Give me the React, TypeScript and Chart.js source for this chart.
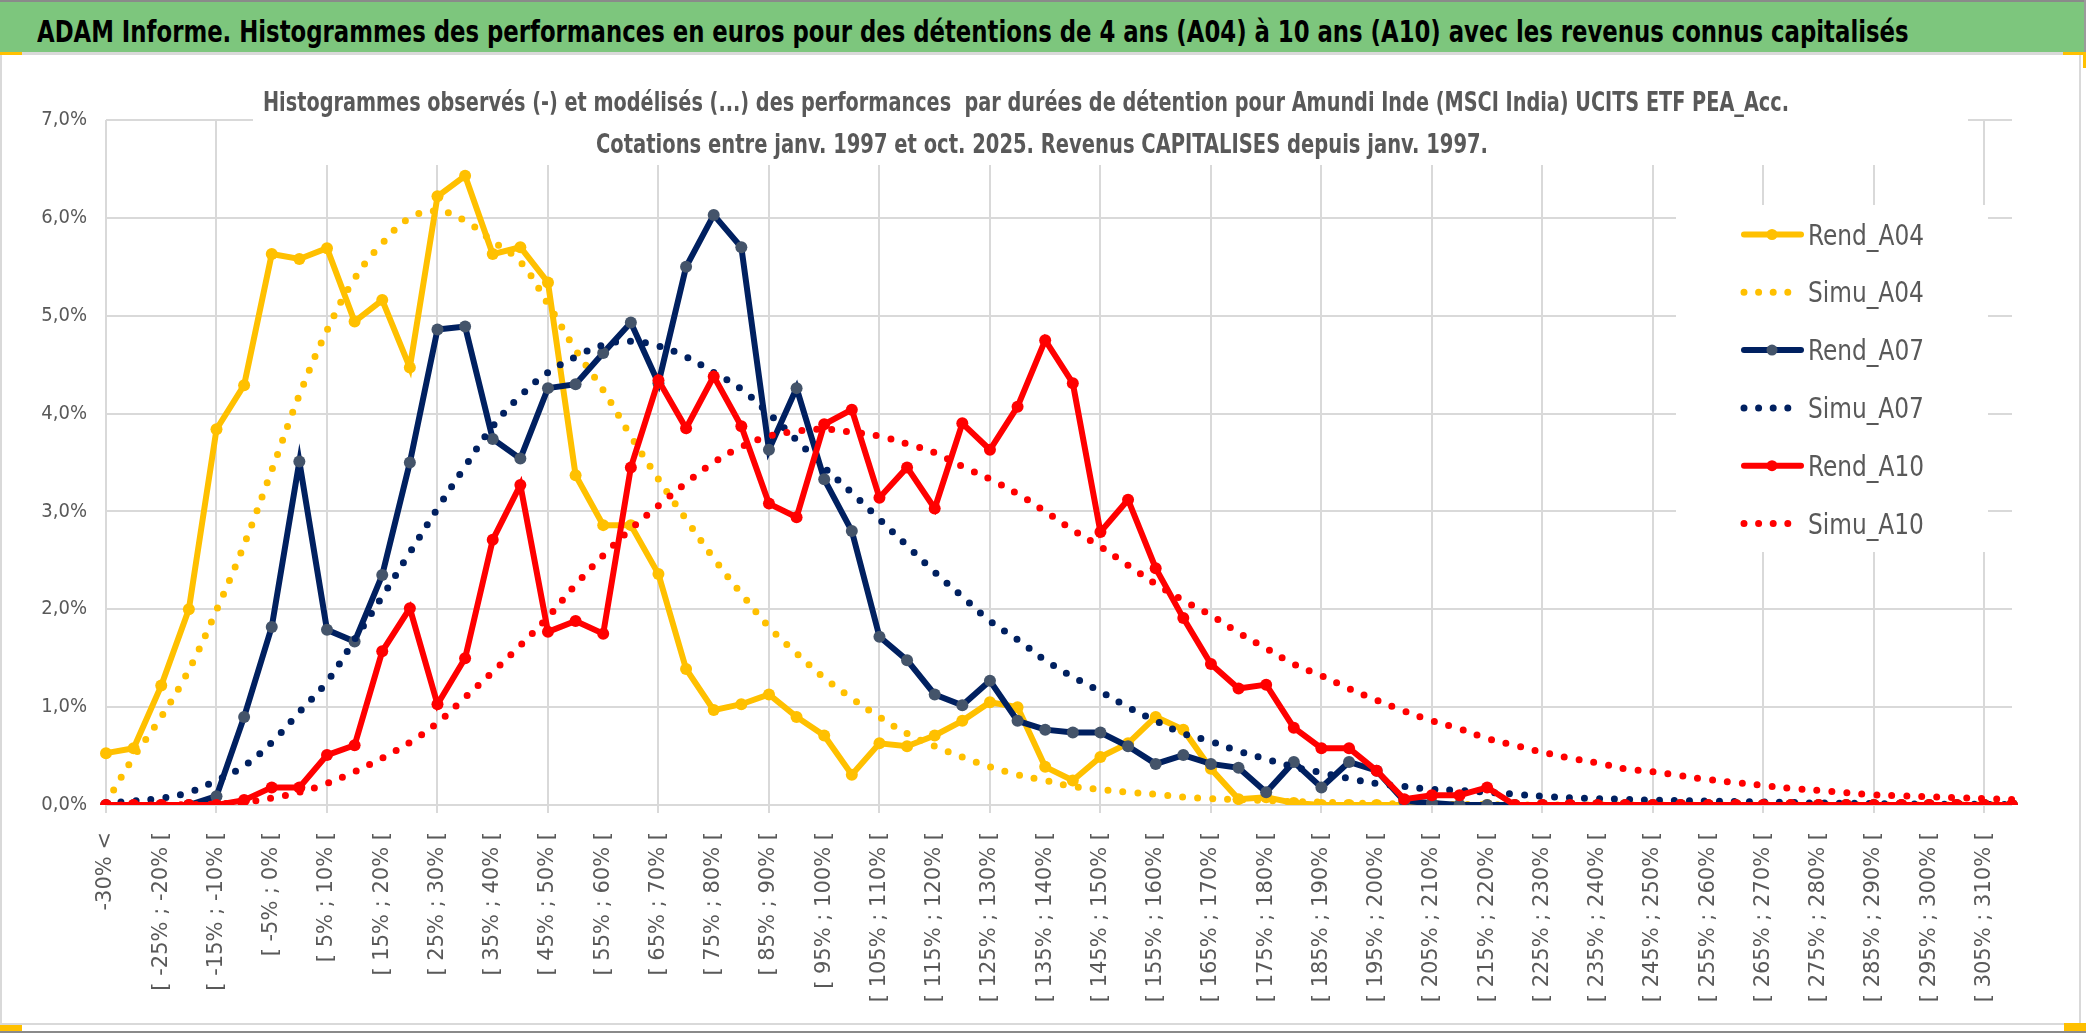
import React, { useEffect, useLayoutEffect, useRef } from 'react';
import { Chart, registerables } from 'chart.js';

Chart.register(...registerables);

// ---------------- DATA ----------------
const categories = [
  '-30% <',
  '[ -30% ; -25% [', '[ -25% ; -20% [', '[ -20% ; -15% [', '[ -15% ; -10% [',
  '[ -10% ; -5% [', '[ -5% ; 0% [', '[ 0% ; 5% [', '[ 5% ; 10% [',
  '[ 10% ; 15% [', '[ 15% ; 20% [', '[ 20% ; 25% [', '[ 25% ; 30% [',
  '[ 30% ; 35% [', '[ 35% ; 40% [', '[ 40% ; 45% [', '[ 45% ; 50% [',
  '[ 50% ; 55% [', '[ 55% ; 60% [', '[ 60% ; 65% [', '[ 65% ; 70% [',
  '[ 70% ; 75% [', '[ 75% ; 80% [', '[ 80% ; 85% [', '[ 85% ; 90% [',
  '[ 90% ; 95% [', '[ 95% ; 100% [', '[ 100% ; 105% [', '[ 105% ; 110% [',
  '[ 110% ; 115% [', '[ 115% ; 120% [', '[ 120% ; 125% [', '[ 125% ; 130% [',
  '[ 130% ; 135% [', '[ 135% ; 140% [', '[ 140% ; 145% [', '[ 145% ; 150% [',
  '[ 150% ; 155% [', '[ 155% ; 160% [', '[ 160% ; 165% [', '[ 165% ; 170% [',
  '[ 170% ; 175% [', '[ 175% ; 180% [', '[ 180% ; 185% [', '[ 185% ; 190% [',
  '[ 190% ; 195% [', '[ 195% ; 200% [', '[ 200% ; 205% [', '[ 205% ; 210% [',
  '[ 210% ; 215% [', '[ 215% ; 220% [', '[ 220% ; 225% [', '[ 225% ; 230% [',
  '[ 230% ; 235% [', '[ 235% ; 240% [', '[ 240% ; 245% [', '[ 245% ; 250% [',
  '[ 250% ; 255% [', '[ 255% ; 260% [', '[ 260% ; 265% [', '[ 265% ; 270% [',
  '[ 270% ; 275% [', '[ 275% ; 280% [', '[ 280% ; 285% [', '[ 285% ; 290% [',
  '[ 290% ; 295% [', '[ 295% ; 300% [', '[ 300% ; 305% [', '[ 305% ; 310% [',
  '[ 310% ; 315% [',
];

const rendA04 = [
  0.53, 0.58, 1.22, 2.0, 3.84, 4.29, 5.63, 5.58, 5.69, 4.94,
  5.16, 4.47, 6.22, 6.43, 5.63, 5.70, 5.34, 3.37, 2.86, 2.86,
  2.36, 1.39, 0.97, 1.03, 1.13, 0.90, 0.71, 0.31, 0.63, 0.60,
  0.71, 0.86, 1.05, 1.00, 0.39, 0.25, 0.49, 0.63, 0.90, 0.77,
  0.37, 0.06, 0.08, 0.02, 0, 0, 0, 0, 0, 0,
  0, 0, 0, 0, 0, 0, 0, 0, 0, 0,
  0, 0, 0, 0, 0, 0, 0, 0, 0, 0,
];

const simuA04 = [
  0.02, 0.49, 0.90, 1.38, 1.99, 2.66, 3.42, 4.19, 4.85, 5.38,
  5.74, 6.00, 6.07, 5.97, 5.76, 5.55, 5.12, 4.65, 4.24, 3.77,
  3.33, 2.92, 2.52, 2.16, 1.82, 1.55, 1.30, 1.09, 0.90, 0.73,
  0.60, 0.49, 0.39, 0.31, 0.25, 0.19, 0.16, 0.13, 0.11, 0.08,
  0.065, 0.055, 0.045, 0.035, 0.03, 0.02, 0.015, 0.01, 0.01, 0.005,
  0.005, 0, 0, 0, 0, 0, 0, 0, 0, 0,
  0, 0, 0, 0, 0, 0, 0, 0, 0, 0,
];

const rendA07 = [
  0, 0, 0, 0, 0.09, 0.90, 1.82, 3.51, 1.79, 1.67,
  2.35, 3.50, 4.86, 4.89, 3.74, 3.54, 4.26, 4.30, 4.62, 4.93,
  4.31, 5.50, 6.03, 5.70, 3.63, 4.26, 3.33, 2.80, 1.72, 1.48,
  1.13, 1.02, 1.27, 0.86, 0.77, 0.74, 0.74, 0.60, 0.42, 0.51,
  0.42, 0.38, 0.13, 0.44, 0.18, 0.44, 0.35, 0.04, 0.02, 0,
  0, 0, 0, 0, 0, 0, 0, 0, 0, 0,
  0, 0, 0, 0, 0, 0, 0, 0, 0, 0,
];

const simuA07 = [
  0.02, 0.04, 0.07, 0.13, 0.25, 0.40, 0.64, 0.95, 1.26, 1.69,
  2.13, 2.58, 3.03, 3.46, 3.87, 4.18, 4.42, 4.58, 4.70, 4.74,
  4.69, 4.58, 4.42, 4.25, 4.00, 3.73, 3.45, 3.19, 2.92, 2.65,
  2.38, 2.13, 1.88, 1.69, 1.48, 1.31, 1.16, 1.00, 0.86, 0.73,
  0.65, 0.55, 0.47, 0.39, 0.33, 0.27, 0.22, 0.19, 0.16, 0.15,
  0.13, 0.11, 0.09, 0.075, 0.065, 0.058, 0.05, 0.045, 0.04, 0.035,
  0.03, 0.025, 0.02, 0.018, 0.015, 0.012, 0.01, 0.008, 0.006, 0.005,
];

const rendA10 = [
  0, 0, 0, 0, 0, 0.05, 0.18, 0.18, 0.51, 0.61,
  1.57, 2.01, 1.03, 1.50, 2.71, 3.27, 1.77, 1.88, 1.75, 3.45,
  4.34, 3.85, 4.38, 3.87, 3.08, 2.94, 3.89, 4.04, 3.14, 3.45,
  3.03, 3.90, 3.63, 4.07, 4.75, 4.31, 2.79, 3.12, 2.42, 1.91,
  1.44, 1.19, 1.23, 0.79, 0.58, 0.58, 0.35, 0.06, 0.10, 0.10,
  0.18, 0, 0, 0, 0, 0, 0, 0, 0, 0,
  0, 0, 0, 0, 0, 0, 0, 0, 0, 0,
];

const simuA10 = [
  0, 0, 0, 0.005, 0.01, 0.03, 0.07, 0.13, 0.22, 0.34,
  0.48, 0.64, 0.84, 1.10, 1.36, 1.63, 1.92, 2.25, 2.55, 2.82,
  3.06, 3.29, 3.50, 3.66, 3.77, 3.82, 3.84, 3.81, 3.77, 3.69,
  3.60, 3.46, 3.33, 3.18, 3.00, 2.81, 2.64, 2.45, 2.26, 2.09,
  1.94, 1.76, 1.60, 1.44, 1.32, 1.19, 1.07, 0.96, 0.86, 0.78,
  0.68, 0.61, 0.54, 0.48, 0.43, 0.37, 0.34, 0.30, 0.26, 0.23,
  0.20, 0.17, 0.15, 0.125, 0.105, 0.095, 0.085, 0.075, 0.065, 0.057,
];

const seriesNames = ['Rend_A04', 'Simu_A04', 'Rend_A07', 'Simu_A07', 'Rend_A10', 'Simu_A10'];

const bannerText =
  'ADAM Informe. Histogrammes des performances en euros pour des détentions de 4 ans (A04) à 10 ans (A10) avec les revenus connus capitalisés';
const subtitleLines = [
  'Histogrammes observés (-) et modélisés (...) des performances  par durées de détention pour Amundi Inde (MSCI India) UCITS ETF PEA_Acc.',
  'Cotations entre janv. 1997 et oct. 2025. Revenus CAPITALISES depuis janv. 1997.',
];

// ---------------- STYLE / LAYOUT ----------------
const YELLOW = '#FFC000';
const NAVY = '#002060';
const NAVY_MARK = '#44546A';
const RED = '#FF0000';
const GRID = '#d9d9d9';
const TEXT = '#595959';
const GREEN = '#7DC67D';
const CONDENSED = '"DejaVu Sans Condensed", "DejaVu Sans", sans-serif';

const CANVAS_W = 2080;
const CANVAS_H = 968;
const CANVAS_TOP = 55;

const overlayPlugin = {
  id: 'overlay',
  beforeDatasetsDraw(chart: any) {
    const ctx = chart.ctx;
    ctx.save();
    ctx.fillStyle = '#ffffff';
    ctx.fillRect(253, 0, 1715, 110); // title box
    ctx.fillRect(1676, 150, 312, 347); // legend box
    ctx.restore();
  },
  afterDraw(chart: any) {
    const ctx = chart.ctx;
    const subPos = [
      { x: 263, w: 1526, y: 56 },
      { x: 596, w: 892, y: 98 },
    ];
    ctx.save();
    ctx.fillStyle = TEXT;
    ctx.font = 'bold 26px ' + CONDENSED;
    ctx.textBaseline = 'alphabetic';
    ctx.textAlign = 'left';
    subtitleLines.forEach((line, i) => {
      const p = subPos[i];
      const mw = ctx.measureText(line).width;
      ctx.save();
      ctx.translate(p.x, p.y);
      ctx.scale(p.w / mw, 1);
      ctx.fillText(line, 0, 0);
      ctx.restore();
    });
    ctx.restore();

    ctx.save();
    ctx.font = '28px ' + CONDENSED;
    const sx = 116 / ctx.measureText('Rend_A04').width;
    chart.data.datasets.forEach((ds: any, i: number) => {
      const y = 179.5 + i * 57.8;
      ctx.save();
      if (ds.borderDash && ds.borderDash.length) {
        ctx.strokeStyle = ds.borderColor;
        ctx.lineWidth = 7;
        ctx.lineCap = 'round';
        ctx.setLineDash([0, 14.6]);
        ctx.beginPath();
        ctx.moveTo(1744, y);
        ctx.lineTo(1790, y);
        ctx.stroke();
      } else {
        ctx.strokeStyle = ds.borderColor;
        ctx.lineWidth = 6;
        ctx.lineCap = 'round';
        ctx.beginPath();
        ctx.moveTo(1744, y);
        ctx.lineTo(1801, y);
        ctx.stroke();
        ctx.fillStyle = ds.pointBackgroundColor;
        ctx.beginPath();
        ctx.arc(1772, y, 5.5, 0, Math.PI * 2);
        ctx.fill();
      }
      ctx.restore();
      ctx.save();
      ctx.fillStyle = TEXT;
      ctx.textBaseline = 'alphabetic';
      ctx.translate(1808, y + 10);
      ctx.scale(sx, 1);
      ctx.fillText(ds.label, 0, 0);
      ctx.restore();
    });
    ctx.restore();
  },
};

function rendDataset(label: string, data: number[], color: string, markColor: string, order: number) {
  return {
    label,
    data,
    borderColor: color,
    backgroundColor: color,
    borderWidth: 6,
    pointRadius: 6,
    pointBackgroundColor: markColor,
    pointBorderColor: markColor,
    pointBorderWidth: 0,
    tension: 0,
    fill: false,
    order,
  };
}

function simuDataset(label: string, data: number[], color: string, order: number) {
  return {
    label,
    data,
    borderColor: color,
    backgroundColor: color,
    borderWidth: 7,
    borderDash: [0, 15],
    borderCapStyle: 'round',
    borderJoinStyle: 'round',
    pointRadius: 0,
    tension: 0.4,
    fill: false,
    order,
  };
}

function ChartCanvas() {
  const ref = useRef<HTMLCanvasElement | null>(null);
  useEffect(() => {
    if (!ref.current) return;
    const chart = new Chart(ref.current, {
      type: 'line',
      data: {
        labels: categories,
        datasets: [
          rendDataset(seriesNames[0], rendA04, YELLOW, YELLOW, 5),
          simuDataset(seriesNames[1], simuA04, YELLOW, 4),
          rendDataset(seriesNames[2], rendA07, NAVY, NAVY_MARK, 3),
          simuDataset(seriesNames[3], simuA07, NAVY, 2),
          rendDataset(seriesNames[4], rendA10, RED, RED, 1),
          simuDataset(seriesNames[5], simuA10, RED, 0),
        ] as any,
      },
      options: {
        responsive: false,
        animation: false,
        devicePixelRatio: 1,
        layout: { padding: { left: 0, right: 68, top: 65, bottom: 0 } },
        plugins: {
          legend: { display: false },
          title: { display: false },
          tooltip: { enabled: false },
        },
        scales: {
          x: {
            type: 'category',
            offset: false,
            grid: {
              color: (c: any) => (c.index % 4 === 0 ? GRID : 'rgba(0,0,0,0)'),
              lineWidth: 2,
              tickLength: 8,
              drawTicks: true,
            },
            border: { display: false },
            ticks: {
              autoSkip: false,
              maxRotation: 90,
              minRotation: 90,
              padding: 19,
              color: TEXT,
              font: { family: '"DejaVu Sans", sans-serif', size: 21 },
              callback: (_v: any, i: number) => (i % 2 === 0 ? categories[i] : ''),
            },
            afterFit: (s: any) => {
              s.height = 218;
            },
          },
          y: {
            min: 0,
            max: 7,
            ticks: {
              stepSize: 1,
              padding: 19,
              color: TEXT,
              font: { family: CONDENSED, size: 20 },
              callback: (v: any) => Number(v).toFixed(1).replace('.', ',') + '%',
            },
            grid: { color: GRID, lineWidth: 2, drawTicks: false },
            border: { display: false },
            afterFit: (s: any) => {
              s.width = 106;
            },
          },
        },
      } as any,
      plugins: [overlayPlugin],
    });
    return () => chart.destroy();
  }, []);
  return (
    <canvas
      ref={ref}
      width={CANVAS_W}
      height={CANVAS_H}
      style={{ position: 'absolute', left: 0, top: CANVAS_TOP, width: CANVAS_W, height: CANVAS_H }}
    />
  );
}

function Banner() {
  const ref = useRef<HTMLSpanElement | null>(null);
  useLayoutEffect(() => {
    const el = ref.current;
    if (!el) return;
    const w = el.offsetWidth;
    if (w > 0) el.style.transform = `scaleX(${1872 / w})`;
  }, []);
  return (
    <div
      style={{
        position: 'absolute',
        left: 37,
        top: 17,
        height: 30,
        lineHeight: '30px',
        whiteSpace: 'nowrap',
      }}
    >
      <span
        ref={ref}
        style={{
          display: 'inline-block',
          fontFamily: CONDENSED,
          fontWeight: 'bold',
          fontSize: 30,
          color: '#000',
          transformOrigin: '0 50%',
        }}
      >
        {bannerText}
      </span>
    </div>
  );
}

function Box(p: { l: number; t: number; w: number; h: number; c: string }) {
  return (
    <div style={{ position: 'absolute', left: p.l, top: p.t, width: p.w, height: p.h, background: p.c }} />
  );
}

export default function App() {
  return (
    <div
      style={{
        position: 'absolute',
        left: 0,
        top: 0,
        width: 2086,
        height: 1033,
        background: '#fff',
        overflow: 'hidden',
      }}
    >
      <Box l={0} t={0} w={2086} h={2} c="#8a8a8a" />
      <Box l={0} t={2} w={2086} h={50} c={GREEN} />
      <Box l={2084} t={0} w={2} h={52} c="#9a9a9a" />
      <Banner />
      <Box l={0} t={52} w={2063} h={3} c={GRID} />
      <Box l={0} t={52} w={22} h={3} c={YELLOW} />
      <Box l={2063} t={52} w={23} h={3} c={YELLOW} />
      <Box l={2083} t={52} w={3} h={16} c={YELLOW} />
      <ChartCanvas />
      <Box l={0} t={55} w={2} h={968} c={GRID} />
      <Box l={2079} t={55} w={2} h={970} c={GRID} />
      <Box l={0} t={1023} w={2081} h={2} c={GRID} />
      <Box l={0} t={1025} w={22} h={6} c={YELLOW} />
      <Box l={2064} t={1023} w={22} h={8} c={YELLOW} />
      <Box l={0} t={1031} w={2086} h={2} c="#8a8a8a" />
    </div>
  );
}
